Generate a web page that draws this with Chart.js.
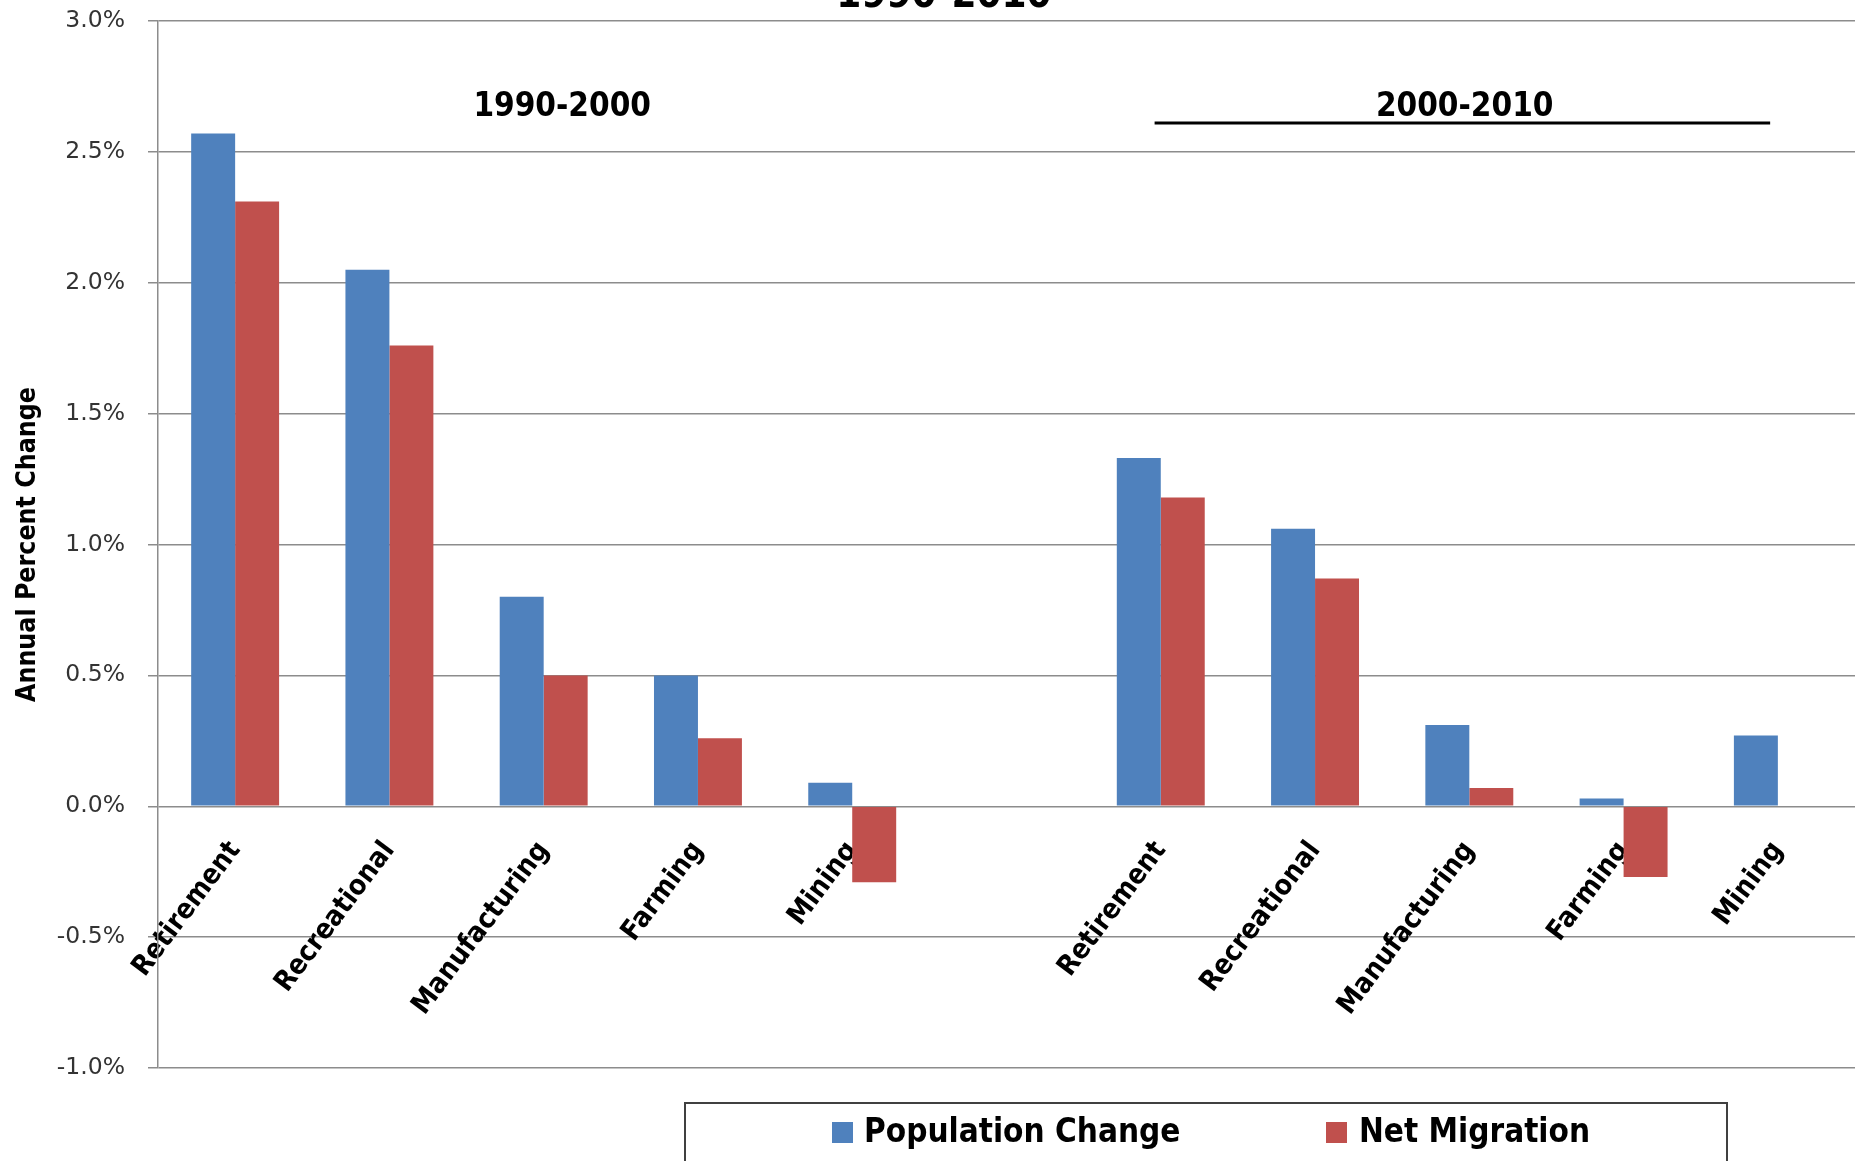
<!DOCTYPE html>
<html><head><meta charset="utf-8">
<script src="https://cdn.jsdelivr.net/npm/chart.js@4/dist/chart.umd.min.js"></script>
<style>html,body{margin:0;padding:0;background:#fff;overflow:hidden}#wrap{width:1858px;height:1161px;position:relative}</style>
</head><body><div id="wrap"><canvas id="c" width="1858" height="1161"></canvas></div>
<script>
const categories = ['Retirement','Recreational','Manufacturing','Farming','Mining','','Retirement','Recreational','Manufacturing','Farming','Mining'];
const populationChange = [2.57, 2.05, 0.80, 0.50, 0.09, null, 1.33, 1.06, 0.31, 0.03, 0.27];
const netMigration     = [2.31, 1.76, 0.50, 0.26, -0.29, null, 1.18, 0.87, 0.07, -0.27, 0];
const seriesNames = ['Population Change', 'Net Migration'];
const yTicks = [-1.0, -0.5, 0.0, 0.5, 1.0, 1.5, 2.0, 2.5, 3.0];
const periodLabels = ['1990-2000', '2000-2010'];
const chartTitle = '1990-2010';
const yAxisTitle = 'Annual Percent Change';

const COND = '"DejaVu Sans Condensed", "Liberation Sans Narrow", "Open Sans", sans-serif';
const BLUE = '#4F81BD', RED = '#C0504D', GRID = '#8c8c8c';

const overlay = {
  id: 'overlay',
  afterDraw(chart) {
    const ctx = chart.ctx, xs = chart.scales.x, ys = chart.scales.y;
    ctx.save();
    ctx.fillStyle = '#000';
    ctx.textAlign = 'center';
    ctx.textBaseline = 'alphabetic';
    // cut-off chart title
    ctx.font = 'bold 40px ' + COND;
    ctx.fillText(chartTitle, 944, 7);
    // period labels
    ctx.font = 'bold 33px ' + COND;
    ctx.textBaseline = 'middle';
    ctx.fillText(periodLabels[0], xs.getPixelForValue(2.12), ys.getPixelForValue(2.67));
    ctx.fillText(periodLabels[1], xs.getPixelForValue(7.97), ys.getPixelForValue(2.67));
    ctx.strokeStyle = '#000';
    ctx.lineWidth = 3;
    ctx.beginPath();
    const ly = ys.getPixelForValue(2.61);
    ctx.moveTo(xs.getPixelForValue(5.96), ly);
    ctx.lineTo(xs.getPixelForValue(9.95), ly);
    ctx.stroke();
    // legend box
    ctx.strokeStyle = '#404040';
    ctx.lineWidth = 2;
    ctx.strokeRect(685, 1103, 1042, 80);
    const items = [{x: 832, tx: 864}, {x: 1326, tx: 1359}];
    ctx.font = 'bold 33px ' + COND;
    ctx.textAlign = 'left';
    chart.data.datasets.forEach((ds, i) => {
      ctx.fillStyle = ds.backgroundColor;
      ctx.fillRect(items[i].x, 1122, 21, 21);
      ctx.fillStyle = '#000';
      ctx.fillText(ds.label, items[i].tx, 1133);
    });
    ctx.restore();
  }
};

new Chart(document.getElementById('c'), {
  type: 'bar',
  data: {
    labels: categories,
    datasets: [
      {label: seriesNames[0], data: populationChange, backgroundColor: BLUE},
      {label: seriesNames[1], data: netMigration, backgroundColor: RED}
    ]
  },
  options: {
    responsive: false,
    animation: false,
    layout: {padding: {top: 21, right: 3, bottom: 93, left: 0}},
    datasets: {bar: {categoryPercentage: 0.57, barPercentage: 1.0}},
    plugins: {legend: {display: false}, tooltip: {enabled: false}, title: {display: false}},
    scales: {
      x: {
        position: {y: 0},
        z: 1,
        grid: {display: false, drawTicks: false},
        border: {display: false},
        ticks: {autoSkip: false, minRotation: 53, maxRotation: 53, padding: 29, color: '#000',
                font: {family: COND, weight: 'bold', size: 28}}
      },
      y: {
        min: -1, max: 3,
        afterBuildTicks: s => { s.ticks = yTicks.map(v => ({value: v})); },
        afterFit: s => { s.width = 158; s.paddingTop = 0; s.paddingBottom = 0; },
        grid: {color: GRID, lineWidth: 1.5, tickLength: 10, drawTicks: true},
        border: {color: GRID, width: 1.5},
        ticks: {padding: 23, color: '#333', font: {family: '"DejaVu Sans", Verdana, sans-serif', size: 23.5},
                callback: v => Number(v).toFixed(1) + '%'},
        title: {display: true, text: yAxisTitle, color: '#000', padding: {top: 12, bottom: 0},
                font: {family: COND, weight: 'bold', size: 26.5}}
      }
    }
  },
  plugins: [overlay]
});
</script>
</body></html>
